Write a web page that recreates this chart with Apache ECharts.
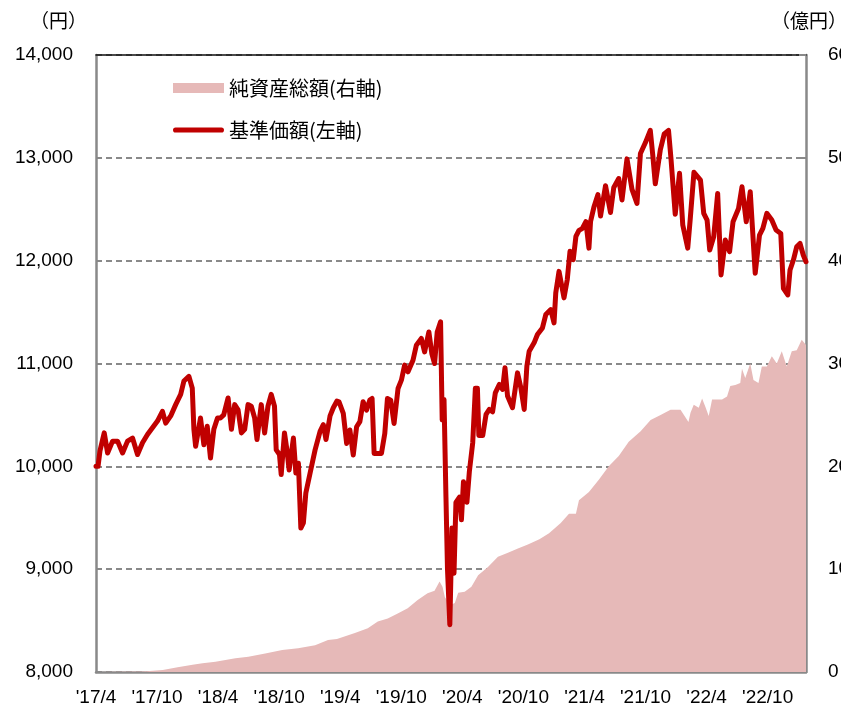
<!DOCTYPE html>
<html><head><meta charset="utf-8">
<script src="https://cdn.jsdelivr.net/npm/echarts@6/dist/echarts.min.js"></script>
<style>html,body{margin:0;padding:0;background:#fff}#c{width:841px;height:710px}</style>
</head><body><div id="c"></div>
<script>
// x values: months since 2017-01 (e.g. 3 = 2017/4)
const navMonths = [
3.00,3.20,3.39,3.81,4.14,4.63,5.12,5.61,6.10,6.59,7.08,7.57,8.06,8.55,9.04,9.53,9.85,10.34,10.83,11.32,
11.64,12.13,12.46,12.62,12.79,13.27,13.60,13.93,14.25,14.58,14.94,
15.23,15.55,15.98,16.31,16.63,16.96,17.29,17.61,17.94,18.26,18.59,18.82,19.24,19.57,19.90,20.22,20.54,20.71,21.03,21.20,
21.52,21.76,21.98,22.40,22.64,22.89,23.13,23.38,23.62,24.04,24.53,25.02,25.34,25.60,26.00,26.32,26.68,
26.88,27.30,27.63,27.95,28.28,28.61,28.93,29.25,29.59,29.91,30.13,30.33,30.72,31.05,31.38,31.64,31.96,32.29,32.68,33.01,
33.33,33.66,34.15,34.48,34.97,35.29,35.71,36.00,36.27,36.53,36.86,
37.02,37.20,37.39,37.54,37.77,37.98,38.18,38.37,38.72,38.91,39.11,39.45,39.69,40.02,40.28,40.48,40.62,41.00,41.33,41.65,
41.97,42.24,42.63,42.95,43.19,43.44,43.93,44.42,44.75,45.08,45.34,45.57,46.05,46.38,46.87,47.20,47.69,48.01,48.18,48.50,
48.99,49.31,49.58,49.90,50.16,
50.46,50.78,51.14,51.44,51.60,51.93,52.32,52.58,53.07,53.56,53.88,54.37,54.69,55.18,55.67,56.16,56.50,56.98,57.47,57.73,
57.96,58.45,58.84,59.26,59.49,59.92,60.34,60.66,61.15,61.39,61.76,
62.40,62.72,63.05,63.31,63.70,64.09,64.42,64.84,65.26,65.60,66.14,66.48,66.90,67.29,67.78,68.20,68.53,68.92,69.41,69.83,
70.29,70.55,70.98,71.20,71.53,71.86,72.18,72.50,72.77
];
const navValues = [
10000,10000,10150,10325,10130,10245,10245,10130,10245,10275,10115,10230,10310,10375,10440,10535,10420,10490,10600,10700,
10830,10875,10760,10360,10195,10470,10210,10390,10080,10360,10470,
10470,10500,10665,10360,10600,10550,10325,10360,10600,10585,10470,10260,10600,10325,10585,10700,10585,10160,10115,9920,
10325,10160,9965,10275,9935,10030,9400,9450,9740,9935,10160,10340,10405,10260,10490,10570,10635,
10628,10515,10223,10353,10110,10385,10434,10628,10547,10644,10660,10126,10126,10126,10320,10660,10644,10417,10757,10838,
10984,10919,11032,11178,11243,11113,11307,11097,11000,11307,11405,
10450,10650,9700,9000,8460,9400,8960,9650,9700,9480,9850,9650,9950,10230,10760,10760,10300,10300,10505,10553,
10530,10715,10796,10748,10958,10683,10570,10909,10764,10553,10974,11120,11201,11282,11346,11476,11524,11395,11686,11896,
11638,11816,12091,12010,12236,
12295,12312,12380,12122,12382,12521,12642,12434,12729,12469,12712,12799,12590,12990,12694,12556,13042,13146,13267,13007,
12747,13076,13233,13267,13007,12451,12851,12347,12122,12400,12860,
12783,12460,12395,12104,12233,12654,11861,12200,12087,12379,12508,12718,12379,12670,11877,12249,12314,12460,12395,12298,
12265,11731,11667,11909,12006,12136,12168,12055,11990
];
const aumMonths = [
3.00,3.20,7.60,9.56,11.02,12.49,13.47,14.74,16.70,17.97,19.63,21.30,22.86,24.53,25.80,26.68,28.44,29.71,30.69,31.67,32.65,
33.63,34.61,35.58,36.27,36.76,37.05,37.28,37.77,38.26,38.59,39.23,39.89,40.55,41.52,42.50,43.48,44.46,45.44,46.57,47.52,
48.67,49.48,50.16,50.46,51.44,52.41,53.39,54.37,55.35,56.52,57.50,58.48,59.46,60.44,61.22,61.42,61.74,62.23,62.56,62.88,
63.21,63.54,64.03,64.52,65.01,65.33,65.82,66.31,66.48,66.80,67.29,67.61,68.10,68.43,68.92,69.41,69.90,70.39,70.88,71.37,
71.86,72.35,72.77
];
const aumValues = [
0,0,0.05,0.2,0.45,0.7,0.85,1.0,1.33,1.49,1.8,2.14,2.3,2.6,3.1,3.2,3.8,4.25,4.9,5.2,5.7,
6.2,7.0,7.65,7.9,8.8,8.3,7.3,6.5,6.7,7.7,7.8,8.3,9.4,10.2,11.2,11.6,12.0,12.4,12.9,13.5,
14.5,15.4,15.4,16.7,17.5,18.7,20.0,21.0,22.4,23.4,24.5,25.0,25.5,25.5,24.3,25.2,26.0,25.7,26.6,25.8,
24.9,26.5,26.5,26.5,26.8,27.8,27.9,28.1,29.5,28.6,30.0,28.4,28.1,29.7,29.7,30.7,30.0,31.2,29.7,31.2,
31.3,32.3,31.8
];
const xTickMonths = [3,9,15,21,27,33,39,45,51,57,63,69];
const xStart = 3, xEnd = 72.77;
const leftMin = 8000, leftMax = 14000, leftStep = 1000;
const rightMin = 0, rightMax = 60, rightStep = 10;
const navName = '基準価額(左軸)';
const aumName = '純資産総額(右軸)';
const leftUnit = '（円）';
const rightUnit = '（億円）';

const NAV_COLOR = '#C00000';
const AUM_COLOR = '#E6B9B8';
const AXIS_GRAY = '#898989';
const NUM_FONT = 'Liberation Sans';
const JP_FONT = '"Noto Sans CJK JP"';

const pair = (xs, ys) => xs.slice(0, Math.min(xs.length, ys.length)).map((x, i) => [x, ys[i]]);

const chart = echarts.init(document.getElementById('c'), null, {renderer: 'canvas'});
chart.setOption({
  animation: false,
  backgroundColor: '#fff',
  grid: {left: 96, right: 35, top: 55, bottom: 38, outerBoundsMode: 'none', containLabel: false},
  legend: {
    orient: 'vertical', left: 168, top: 73, itemWidth: 51, itemHeight: 10, itemGap: 22,
    symbolKeepAspect: true,
    textStyle: {fontFamily: JP_FONT, fontSize: 20, color: '#000', lineHeight: 20},
    data: [
      {name: aumName, icon: 'rect', itemStyle: {color: AUM_COLOR}},
      {name: navName, icon: 'path://M2.5,0 L47.5,0 A2.5,2.5 0 0 1 47.5,5 L2.5,5 A2.5,2.5 0 0 1 2.5,0 Z',
       itemStyle: {color: NAV_COLOR, borderWidth: 0}}
    ]
  },
  graphic: [
    {type: 'text', style: {x: 30, y: 21, text: leftUnit, font: '19px ' + JP_FONT, fill: '#000', textVerticalAlign: 'middle'}},
    {type: 'text', style: {x: 771, y: 21, text: rightUnit, font: '19px ' + JP_FONT, fill: '#000', textVerticalAlign: 'middle'}}
  ],
  xAxis: [
    {
      type: 'value', min: xStart, max: xEnd,
      axisLine: {show: true, onZero: false, lineStyle: {color: AXIS_GRAY, width: 2.5}},
      axisTick: {show: false},
      splitLine: {show: false},
      axisLabel: {
        customValues: xTickMonths, margin: 16, color: '#000', fontFamily: NUM_FONT, fontSize: 19,
        formatter: v => { const m = Math.round(v); return "'" + (17 + Math.floor(m / 12)) + '/' + (m % 12 + 1); }
      }
    },
    {
      type: 'value', position: 'top', min: xStart, max: xEnd,
      axisLine: {show: true, onZero: false, lineStyle: {color: '#111', width: 1.5}},
      axisTick: {show: false}, axisLabel: {show: false}, splitLine: {show: false}
    }
  ],
  yAxis: [
    {
      type: 'value', min: leftMin, max: leftMax, interval: leftStep, position: 'left',
      axisLine: {show: true, lineStyle: {color: AXIS_GRAY, width: 2.5}},
      axisTick: {show: false},
      axisLabel: {margin: 23, color: '#000', fontFamily: NUM_FONT, fontSize: 19,
        formatter: v => v.toLocaleString('en-US')},
      splitLine: {show: true, lineStyle: {color: AXIS_GRAY, width: 2, type: [6, 4]}}
    },
    {
      type: 'value', min: rightMin, max: rightMax, interval: rightStep, position: 'right',
      axisLine: {show: true, lineStyle: {color: AXIS_GRAY, width: 2.5}},
      axisTick: {show: true, inside: true, length: 7, lineStyle: {color: AXIS_GRAY, width: 2}},
      axisLabel: {margin: 22, color: '#000', fontFamily: NUM_FONT, fontSize: 19},
      splitLine: {show: false}
    }
  ],
  series: [
    {
      name: aumName, type: 'line', yAxisIndex: 1, xAxisIndex: 0,
      data: pair(aumMonths, aumValues), symbol: 'none', silent: true,
      lineStyle: {width: 0, color: AUM_COLOR}, itemStyle: {color: AUM_COLOR},
      areaStyle: {color: AUM_COLOR, opacity: 1}, z: 1
    },
    {
      name: navName, type: 'line', yAxisIndex: 0, xAxisIndex: 0,
      data: pair(navMonths, navValues), symbol: 'none', silent: true,
      lineStyle: {width: 5, color: NAV_COLOR, join: 'round', cap: 'round'},
      itemStyle: {color: NAV_COLOR}, z: 3
    }
  ]
});
</script></body></html>
